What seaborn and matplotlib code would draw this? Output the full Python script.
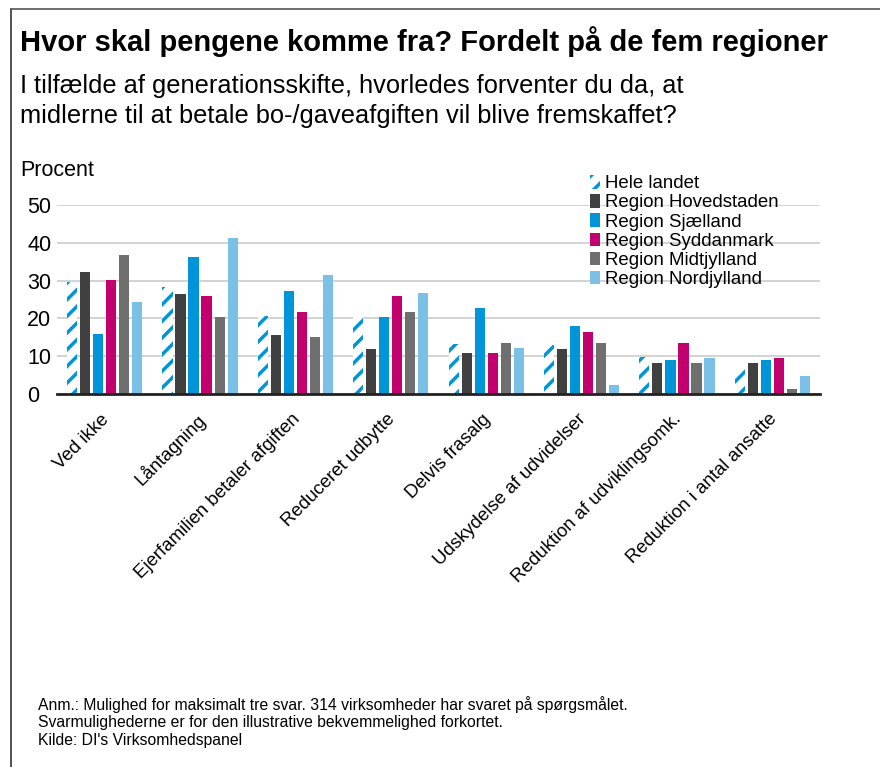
import pandas as pd
import matplotlib.pyplot as plt
import matplotlib.transforms as mtransforms
import seaborn as sns
from matplotlib.lines import Line2D

sns.set_theme(style="white")
plt.rcParams["font.family"] = ["Liberation Sans", "DejaVu Sans"]
plt.rcParams["hatch.linewidth"] = 2.5
plt.rcParams["text.color"] = "black"
plt.rcParams["xtick.color"] = "black"
plt.rcParams["ytick.color"] = "black"

categories = ["Ved ikke", "Låntagning", "Ejerfamilien betaler afgiften",
              "Reduceret udbytte", "Delvis frasalg", "Udskydelse af udvidelser",
              "Reduktion af udviklingsomk.", "Reduktion i antal ansatte"]
regions = ["Hele landet", "Region Hovedstaden", "Region Sjælland",
           "Region Syddanmark", "Region Midtjylland", "Region Nordjylland"]
hele_landet = [29.6, 28.2, 20.7, 20.6, 13.2, 12.9, 9.8, 6.5]
hovedstaden = [32.4, 26.5, 15.6, 11.9, 10.8, 11.9, 8.3, 8.3]
sjaelland = [15.8, 36.3, 27.2, 20.4, 22.7, 18.1, 9.0, 9.0]
syddanmark = [30.2, 26.0, 21.8, 26.0, 10.8, 16.3, 13.5, 9.5]
midtjylland = [36.9, 20.5, 15.0, 21.8, 13.5, 13.5, 8.2, 1.3]
nordjylland = [24.3, 41.4, 31.6, 26.7, 12.1, 2.3, 9.6, 4.7]
colors = ["#FFFFFF", "#404040", "#0095D9", "#C2006E", "#6F6F6F", "#7CC0E8"]

series = [hele_landet, hovedstaden, sjaelland, syddanmark, midtjylland, nordjylland]
df = pd.DataFrame([
    {"kategori": c, "region": r, "procent": v}
    for r, vals in zip(regions, series)
    for c, v in zip(categories, vals)
])

fig = plt.figure(figsize=(8.8, 7.67), dpi=100)
ax = fig.add_axes([57 / 880, 1 - 394 / 767, 763 / 880, 189 / 767])

sns.barplot(data=df, x="kategori", y="procent", hue="region", order=categories,
            hue_order=regions, palette=colors, width=0.82, gap=0.22,
            saturation=1, linewidth=0, ax=ax, legend=False)

# Hele landet: hvid med blå skraveringer
for bar in ax.containers[0]:
    bar.set_hatch("//")
    bar.set_edgecolor("#0095D9")
    bar.set_linewidth(0)

ax.set_ylim(0, 50)
ax.set_yticks([0, 10, 20, 30, 40, 50])
ax.yaxis.grid(True, color="#D0D0D0", linewidth=1.3)
ax.set_axisbelow(True)
for s in ["top", "right", "left"]:
    ax.spines[s].set_visible(False)
ax.spines["bottom"].set_color("#222222")
ax.spines["bottom"].set_linewidth(2)
ax.set_xlabel("")
ax.set_ylabel("")
ax.tick_params(axis="y", labelsize=15.5, length=0, pad=0)
ax.tick_params(axis="x", length=0, pad=12)
ax.set_xticks(range(len(categories)))
ax.set_xticklabels(categories, rotation=45, ha="right", rotation_mode="anchor",
                   fontsize=13.4)
shift = mtransforms.ScaledTranslation(-4 / 100, 0, fig.dpi_scale_trans)
for lab in ax.get_xticklabels():
    lab.set_transform(lab.get_transform() + shift)
for lab in ax.get_yticklabels():
    lab.set_horizontalalignment("left")
    lab.set_x(-30 / 763)

handles = [plt.Rectangle((0, 0), 1, 1, facecolor=c, edgecolor="none") for c in colors]
handles[0] = plt.Rectangle((0, 0), 1, 1, facecolor="white", edgecolor="#0095D9",
                           hatch="//", linewidth=0)
fig.legend(handles, regions, loc="upper left", bbox_to_anchor=(590 / 880, 1 - 175 / 767),
           frameon=False, fontsize=13.4, handlelength=0.55, handleheight=0.75,
           handletextpad=0.25, labelspacing=0.1, borderaxespad=0, borderpad=0)

fig.text(20 / 880, 1 - 42 / 767, "Hvor skal pengene komme fra? Fordelt på de fem regioner",
         fontsize=21, fontweight="bold", va="center", ha="left")
fig.text(20 / 880, 1 - 101 / 767,
         "I tilfælde af generationsskifte, hvorledes forventer du da, at\n"
         "midlerne til at betale bo-/gaveafgiften vil blive fremskaffet?",
         fontsize=18.3, va="center", ha="left", linespacing=1.3)
fig.text(20 / 880, 1 - 171 / 767, "Procent", fontsize=15.5, va="center", ha="left")
fig.text(38 / 880, 1 - 722 / 767,
         "Anm.: Mulighed for maksimalt tre svar. 314 virksomheder har svaret på spørgsmålet.\n"
         "Svarmulighederne er for den illustrative bekvemmelighed forkortet.\n"
         "Kilde: DI's Virksomhedspanel",
         fontsize=11.3, va="center", ha="left", linespacing=1.2)

fig.add_artist(Line2D([11 / 880, 11 / 880], [0, 1 - 9 / 767], color="#333333", linewidth=1.2))
fig.add_artist(Line2D([11 / 880, 1], [1 - 9 / 767, 1 - 9 / 767], color="#555555", linewidth=1.2))

fig.savefig("out.png", dpi=100)
